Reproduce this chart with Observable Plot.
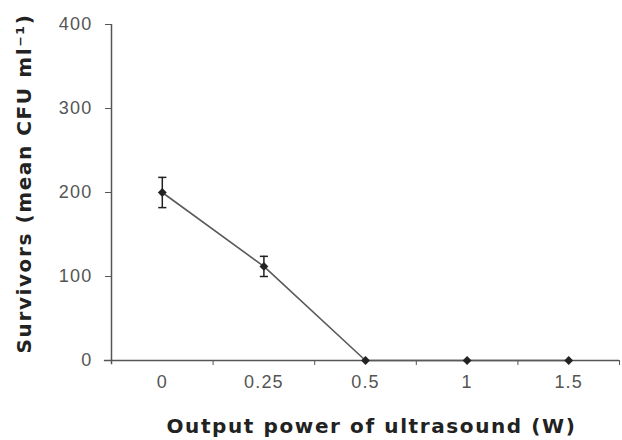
<!DOCTYPE html>
<html>
<head>
<meta charset="utf-8">
<script src="https://cdn.jsdelivr.net/npm/d3@7"></script>
<script src="https://cdn.jsdelivr.net/npm/@observablehq/plot@0.6"></script>
<style>
  html, body { margin: 0; padding: 0; background: #fff; }
  svg { display: block; }
  .ticklbl text { letter-spacing: 1.2px; }
  .ttl text { letter-spacing: 1.6px; }
</style>
</head>
<body>
<div id="chart"></div>
<script>
// Data
const powers = ["0", "0.25", "0.5", "1", "1.5"];       // x categories (W)
const survivors = [200, 112, 0, 0, 0];                 // mean CFU ml-1
const errors = [18, 12, 0, 0, 0];                      // error bar half-length
const yTicks = [0, 100, 200, 300, 400];

const data = powers.map((p, i) => ({i, p, y: survivors[i], e: errors[i]}));
const withErr = data.filter(d => d.e > 0);
const cap = 0.04;

const chart = Plot.plot({
  width: 622,
  height: 440,
  marginLeft: 111,
  marginRight: 3,
  marginTop: 24,
  marginBottom: 80,
  style: {fontFamily: "DejaVu Sans, sans-serif", background: "#fff"},
  x: {type: "linear", domain: [-0.5, powers.length - 0.5]},
  y: {domain: [0, 400]},
  marks: [
    // axes lines
    Plot.ruleX([-0.5], {y1: -5, y2: 400, stroke: "#555", strokeWidth: 1.5}),
    Plot.ruleY([0], {x1: -0.57, x2: powers.length - 0.5, stroke: "#555", strokeWidth: 1.5}),
    // y axis
    Plot.axisY({ticks: yTicks, tickSize: 6, tickPadding: 13, label: null,
      fontSize: 18, fontFamily: "Liberation Sans, Arial, sans-serif",
      fill: "#555", stroke: "#555", className: "ticklbl"}),
    // x labels at category centres
    Plot.axisX({ticks: d3.range(powers.length), tickSize: 0, tickPadding: 15,
      tickFormat: i => powers[i], label: null, fontSize: 18,
      fontFamily: "Liberation Sans, Arial, sans-serif", fill: "#555", className: "ticklbl"}),
    // x tick marks between categories
    Plot.axisX({ticks: d3.range(powers.length).map(i => i + 0.5), tickSize: 5,
      tickFormat: () => "", label: null, stroke: "#555"}),
    // line
    Plot.line(data, {x: "i", y: "y", stroke: "#5a5a5a", strokeWidth: 1.6}),
    // error bars
    Plot.ruleX(withErr, {x: "i", y1: d => d.y - d.e, y2: d => d.y + d.e, stroke: "#222", strokeWidth: 1.5}),
    Plot.link(withErr, {x1: d => d.i - cap, x2: d => d.i + cap, y1: d => d.y + d.e, y2: d => d.y + d.e, stroke: "#222", strokeWidth: 1.5}),
    Plot.link(withErr, {x1: d => d.i - cap, x2: d => d.i + cap, y1: d => d.y - d.e, y2: d => d.y - d.e, stroke: "#222", strokeWidth: 1.5}),
    // points
    Plot.dot(data, {x: "i", y: "y", r: 4, fill: "#222", symbol: "diamond2"}),
    // axis titles
    Plot.text(["Output power of ultrasound (W)"], {frameAnchor: "bottom", dy: 66, dx: 6,
      x: 2, y: 0, fontSize: 20, fontWeight: "bold", fill: "#222", lineAnchor: "middle", className: "ttl"}),
    Plot.text(["Survivors (mean CFU ml\u207B\u00B9)"], {x: -0.5, y: 200, dx: -87, dy: -9, rotate: -90,
      fontSize: 20, fontWeight: "bold", fill: "#222", lineAnchor: "middle", className: "ttl"})
  ]
});
document.getElementById("chart").appendChild(chart);
</script>
</body>
</html>
